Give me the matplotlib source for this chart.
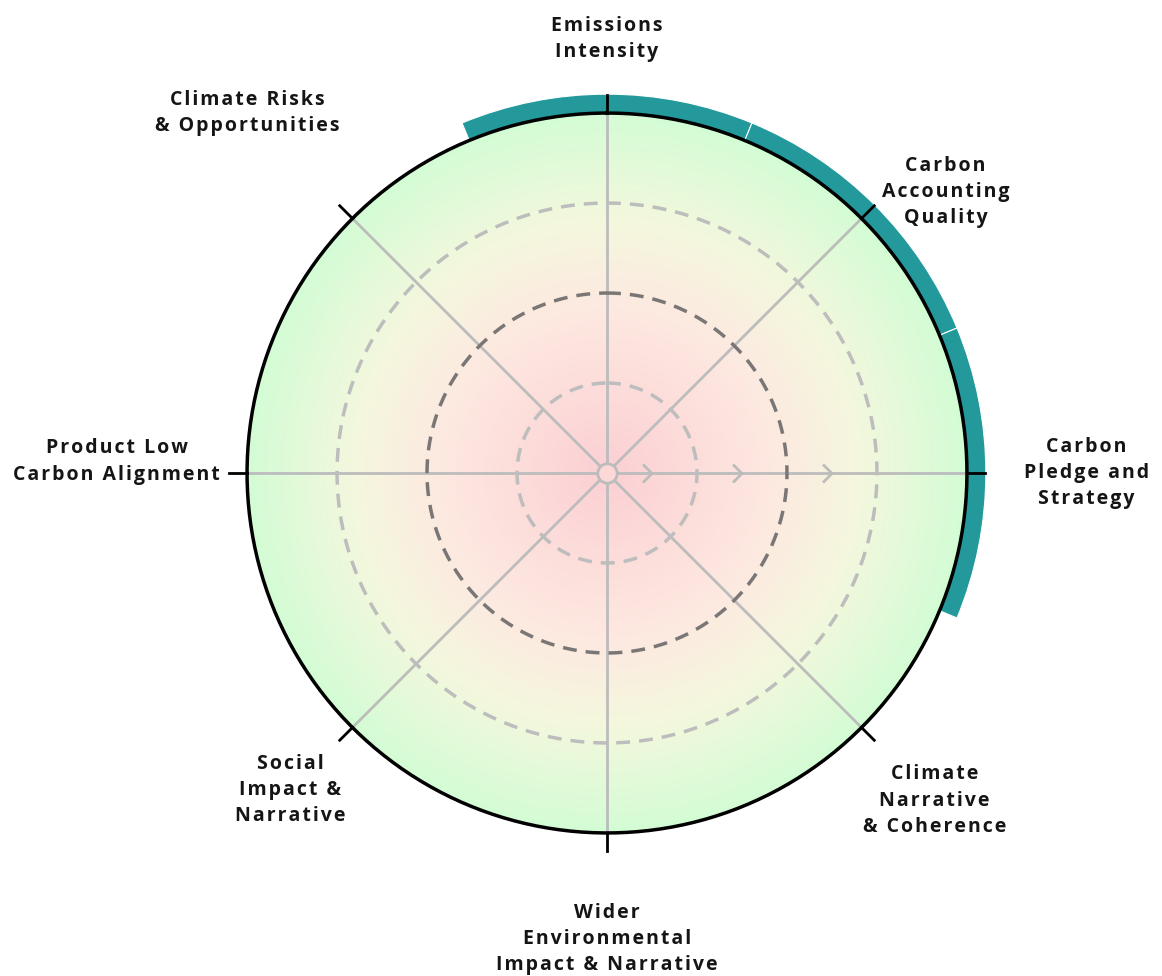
import numpy as np
import matplotlib
matplotlib.use("Agg")
import matplotlib.pyplot as plt
from matplotlib.colors import LinearSegmentedColormap
from matplotlib.path import Path

plt.rcParams['font.family'] = ['Open Sans', 'DejaVu Sans']

# categories clockwise from the top
categories = ["Emissions\nIntensity", "Carbon\nAccounting\nQuality", "Carbon\nPledge and\nStrategy",
              "Climate\nNarrative\n& Coherence", "Wider\nEnvironmental\nImpact & Narrative",
              "Social\nImpact &\nNarrative", "Product Low\nCarbon Alignment",
              "Climate Risks\n& Opportunities"]
# outer ring flags (1 = highlighted segment)
ring_values = [1, 1, 1, 0, 0, 0, 0, 0]
grid_levels = [1, 2, 3]
r_max = 4

n = len(categories)
theta = np.arange(n) * 2 * np.pi / n
width = 2 * np.pi / n


def spaced(s):
    # fake letter spacing with hair spaces
    return "\n".join("\u200a".join(line) for line in s.split("\n"))


fig = plt.figure(figsize=(11.62, 9.76), dpi=100)
# outer radius 4.25 -> 382 px, centre at (607, 473)
R_px = 382
ax = fig.add_axes([(607 - R_px) / 1162, (976 - 473 - R_px) / 976, 2 * R_px / 1162, 2 * R_px / 976],
                  projection='polar')
ax.set_theta_zero_location('N')
ax.set_theta_direction(-1)
ax.set_ylim(0, 4.245)
ax.axis('off')

# radial gradient background
cmap = LinearSegmentedColormap.from_list('bg', [(0, '#fbcfd3'), (0.45, '#fde8e0'),
                                                (0.7, '#f4f7dd'), (1, '#d3fcd4')])
tt = np.linspace(0, 2 * np.pi, 181)
rr = np.linspace(0, r_max, 120)
T, RR = np.meshgrid(tt, rr)
ax.pcolormesh(T, RR, RR / r_max, cmap=cmap, shading='gouraud', zorder=0)

# spokes
for t in theta:
    ax.plot([t, t], [0, r_max], color='#bcbcbc', lw=2, zorder=2, solid_capstyle='butt')

# dashed rings
full = np.linspace(0, 2 * np.pi, 400)
ring_cols = {1: '#bdbdbd', 2: '#7a7676', 3: '#bdbdbd'}
for lv in grid_levels:
    ax.plot(full, np.full_like(full, lv), color=ring_cols[lv], lw=2.5, ls=(0, (4, 2.6)), zorder=3)

# chevrons on the east spoke
chev = Path([(-0.5, 1), (0.5, 0), (-0.5, -1)], [Path.MOVETO, Path.LINETO, Path.LINETO])
ax.plot(np.full(3, theta[2]), [0.45, 1.45, 2.45], ls='none', marker=chev, ms=13,
        mfc='none', mec='#bcbcbc', mew=2, zorder=4)

# centre circle
ax.plot([0], [0], marker='o', ms=14, mfc='#fcd8d8', mec='#bcbcbc', mew=2, zorder=5)

# outer ring segments
for t, v in zip(theta, ring_values):
    if v:
        ax.bar(t, 0.21 * v, width=width, bottom=r_max, color='#24999b',
               edgecolor='white', linewidth=0.8, zorder=4)

# outer circle and ticks
ax.plot(full, np.full_like(full, r_max), color='black', lw=2.5, zorder=6)
for t in theta:
    ax.plot([t, t], [r_max, r_max + 0.2], color='black', lw=2, zorder=7)

# labels (radius, angle offset in degrees, ha per category)
label_pos = [(4.82, 0, 'center'), (4.89, 5.3, 'center'), (5.33, 0, 'center'),
             (5.15, 0, 'center'), (5.18, 0, 'center'), (4.98, 0, 'center'),
             (4.3, 1.7, 'right'), (5.66, 0, 'center')]
for t, lab, (r, dt, ha) in zip(theta, categories, label_pos):
    ax.text(t + np.deg2rad(dt), r, spaced(lab), ha=ha, va='center', multialignment='center',
            fontsize=14, fontweight='bold', color='#151515', linespacing=1.42, zorder=8)

fig.savefig('out.png', dpi=100, facecolor='white')
